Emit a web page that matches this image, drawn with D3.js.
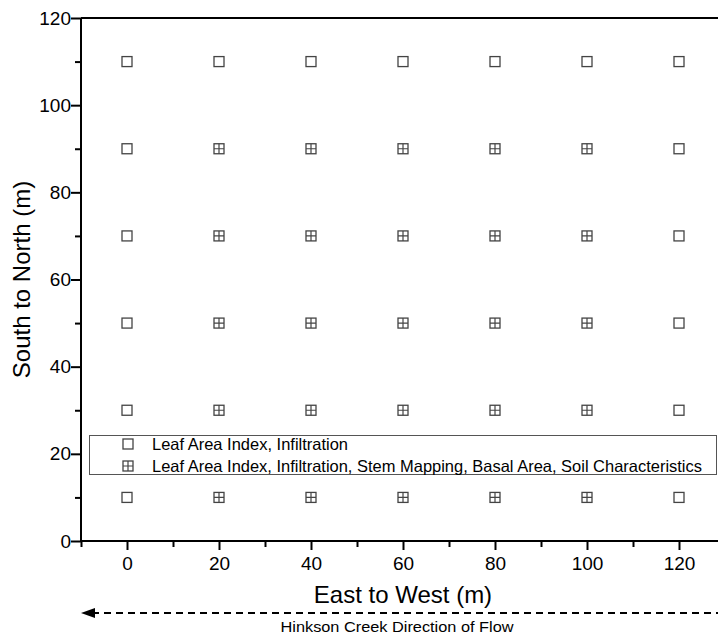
<!DOCTYPE html>
<html lang="en">
<head>
<meta charset="UTF-8">
<title>plot-layout</title>
<script src="https://cdn.jsdelivr.net/npm/d3@7/dist/d3.min.js"></script>
<style>
  body { margin: 0; background: #fff; }
  svg { display: block; font-family: "Liberation Sans", Arial, sans-serif; }
  .axis path, .axis line { stroke: #000; stroke-width: 2px; }
  .axis text { font-size: 19px; fill: #000; }
</style>
</head>
<body>
<script>
// plots where only LAI and infiltration were measured (m)
let plainX = [0, 20, 40, 60, 80, 100, 120, 0, 120, 0, 120, 0, 120, 0, 120, 0, 120];
let plainY = [110, 110, 110, 110, 110, 110, 110, 90, 90, 70, 70, 50, 50, 30, 30, 10, 10];
// plots with the full set of measurements (grid of these columns x rows)
let fullX = [20, 40, 60, 80, 100];
let fullY = [90, 70, 50, 30, 10];
let xTicks = [-10, 0, 10, 20, 30, 40, 50, 60, 70, 80, 90, 100, 110, 120, 130];
let yTicks = [0, 10, 20, 30, 40, 50, 60, 70, 80, 90, 100, 110, 120];
let legendLabels = [
  'Leaf Area Index, Infiltration',
  'Leaf Area Index, Infiltration, Stem Mapping, Basal Area, Soil Characteristics'
];

let width = 718, height = 637;
let marginLeft = 81, marginTop = 18, plotBottom = 541;

let x = d3.scaleLinear().domain([-10, 130]).range([marginLeft, marginLeft + 140 * 4.6]);
let y = d3.scaleLinear().domain([0, 120]).range([plotBottom, marginTop]);

let svg = d3.select('body').append('svg')
  .attr('width', width)
  .attr('height', height);

// build point lists
let points = [];
for (let i = 0; i < plainY.length; i++) points.push({x: plainX[i], y: plainY[i], full: false});
fullY.forEach(function (yy) {
  fullX.forEach(function (xx) {
    points.push({x: xx, y: yy, full: true});
  });
});

// top frame line
svg.append('line')
  .attr('x1', x(-10)).attr('x2', width)
  .attr('y1', y(120)).attr('y2', y(120))
  .attr('stroke', '#000').attr('stroke-width', 2);

let xAxis = d3.axisBottom(x)
  .tickValues(xTicks)
  .tickSize(8)
  .tickPadding(8)
  .tickFormat(function (d) { return (d % 20 === 0 && d >= 0 && d <= 120) ? d : ''; });
let gx = svg.append('g').attr('class', 'axis')
  .attr('transform', 'translate(0,' + plotBottom + ')')
  .call(xAxis);
gx.select('.domain').attr('d', 'M' + x(-10) + ',0H' + width);

let yAxis = d3.axisLeft(y)
  .tickValues(yTicks)
  .tickPadding(4)
  .tickFormat(function (d) { return d % 20 === 0 ? d : ''; });
let gy = svg.append('g').attr('class', 'axis')
  .attr('transform', 'translate(' + marginLeft + ',0)')
  .call(yAxis);
gy.select('.domain').attr('d', 'M0,' + y(120) + 'V' + plotBottom);
gy.selectAll('.tick line').attr('x2', function (d) { return d % 20 === 0 ? -10 : -6; });
gx.selectAll('.tick line').attr('y2', function (d) { return d % 20 === 0 && d >= 0 ? 9 : 6; });

function drawMarker(g, full) {
  let s = 10;
  g.append('rect')
    .attr('x', -s / 2).attr('y', -s / 2)
    .attr('width', s).attr('height', s)
    .attr('fill', '#fff')
    .attr('stroke', '#444')
    .attr('stroke-width', 1.3);
  if (full) {
    g.append('path')
      .attr('d', 'M0,' + (-s / 2) + 'V' + (s / 2) + 'M' + (-s / 2) + ',0H' + (s / 2))
      .attr('stroke', '#444')
      .attr('stroke-width', 1.2);
  }
}

svg.append('g').selectAll('g.pt')
  .data(points)
  .enter()
  .append('g')
  .attr('class', 'pt')
  .attr('transform', function (d) { return 'translate(' + x(d.x) + ',' + y(d.y) + ')'; })
  .each(function (d) { drawMarker(d3.select(this), d.full); });

// legend
let lg = svg.append('g');
lg.append('rect')
  .attr('x', 89.5).attr('y', 435.5)
  .attr('width', 627).attr('height', 39)
  .attr('fill', '#fff')
  .attr('stroke', '#555')
  .attr('stroke-width', 1);
legendLabels.forEach(function (t, i) {
  let row = lg.append('g').attr('transform', 'translate(128,' + (444 + i * 22) + ')');
  drawMarker(row, i === 1);
  row.append('text')
    .attr('x', 24).attr('y', 6)
    .attr('font-size', 16.5)
    .attr('textLength', i === 0 ? 196 : 550)
    .attr('lengthAdjust', 'spacingAndGlyphs')
    .text(t);
});

// axis titles
svg.append('text')
  .attr('x', 403).attr('y', 603)
  .attr('text-anchor', 'middle')
  .attr('font-size', 24)
  .text('East to West (m)');
svg.append('text')
  .attr('transform', 'translate(30,' + y(60) + ') rotate(-90)')
  .attr('text-anchor', 'middle')
  .attr('font-size', 24)
  .text('South to North (m)');

// flow direction arrow
svg.append('line')
  .attr('x1', 92).attr('x2', width)
  .attr('y1', 613).attr('y2', 613)
  .attr('stroke', '#000').attr('stroke-width', 2)
  .attr('stroke-dasharray', '7,5');
svg.append('path')
  .attr('d', 'M81,613L95,608L95,618Z')
  .attr('fill', '#000');
svg.append('text')
  .attr('x', 397).attr('y', 632)
  .attr('text-anchor', 'middle')
  .attr('font-size', 15.5)
  .attr('textLength', 233)
  .attr('lengthAdjust', 'spacingAndGlyphs')
  .text('Hinkson Creek Direction of Flow');
</script>
</body>
</html>
